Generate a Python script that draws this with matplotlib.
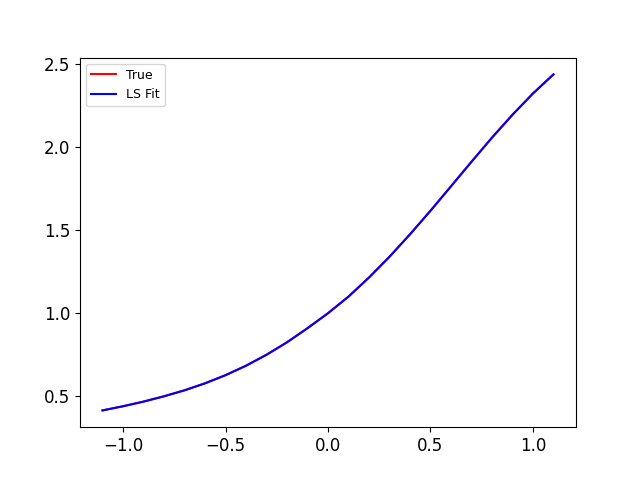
import matplotlib
matplotlib.use("Agg")
import matplotlib.pyplot as plt
from matplotlib.ticker import MultipleLocator

x_vals = [-1.1, -1.0, -0.9, -0.8, -0.7, -0.6, -0.5, -0.4, -0.3, -0.2, -0.1, 0.0,
          0.1, 0.2, 0.3, 0.4, 0.5, 0.6, 0.7, 0.8, 0.9, 1.0, 1.1]
y_true = [0.415, 0.44, 0.468, 0.50, 0.536, 0.578, 0.627, 0.684, 0.75, 0.825, 0.91, 1.0,
          1.10, 1.215, 1.34, 1.475, 1.617, 1.764, 1.912, 2.057, 2.195, 2.323, 2.438]
y_fit = [0.415, 0.44, 0.468, 0.50, 0.536, 0.578, 0.627, 0.684, 0.75, 0.825, 0.91, 1.0,
         1.10, 1.215, 1.34, 1.475, 1.617, 1.764, 1.912, 2.057, 2.195, 2.323, 2.438]

fig, ax = plt.subplots(figsize=(6.4, 4.8), dpi=100)
ax.plot(x_vals, y_true, color="red", label="True")
ax.plot(x_vals, y_fit, color="blue", label="LS Fit")
ax.yaxis.set_major_locator(MultipleLocator(0.5))
ax.tick_params(labelsize=12)
ax.legend(loc="upper left", fontsize=9)
fig.savefig("out.png")
